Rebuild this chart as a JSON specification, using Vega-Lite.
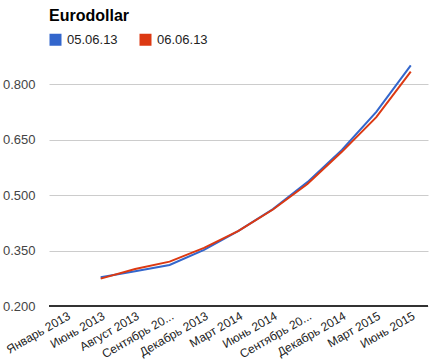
{
  "$schema": "https://vega.github.io/schema/vega-lite/v6.json",
  "autosize": "none",
  "width": 379,
  "height": 244,
  "padding": {"left": 49, "top": 62, "right": 8, "bottom": 58},
  "background": "white",
  "title": {"text": "Eurodollar", "anchor": "start", "frame": "group", "font": "Liberation Sans", "fontSize": 16, "fontWeight": "bold", "color": "#000000", "baseline": "bottom", "offset": 0, "dy": 7},
  "data": {
    "values": [
      {"month": "Июнь 2013", "series": "05.06.13", "value": 0.278},
      {"month": "Август 2013", "series": "05.06.13", "value": 0.294},
      {"month": "Сентябрь 2013", "series": "05.06.13", "value": 0.311},
      {"month": "Декабрь 2013", "series": "05.06.13", "value": 0.352},
      {"month": "Март 2014", "series": "05.06.13", "value": 0.403},
      {"month": "Июнь 2014", "series": "05.06.13", "value": 0.462},
      {"month": "Сентябрь 2014", "series": "05.06.13", "value": 0.535},
      {"month": "Декабрь 2014", "series": "05.06.13", "value": 0.622},
      {"month": "Март 2015", "series": "05.06.13", "value": 0.725},
      {"month": "Июнь 2015", "series": "05.06.13", "value": 0.851},
      {"month": "Июнь 2013", "series": "06.06.13", "value": 0.274},
      {"month": "Август 2013", "series": "06.06.13", "value": 0.300},
      {"month": "Сентябрь 2013", "series": "06.06.13", "value": 0.320},
      {"month": "Декабрь 2013", "series": "06.06.13", "value": 0.357},
      {"month": "Март 2014", "series": "06.06.13", "value": 0.403},
      {"month": "Июнь 2014", "series": "06.06.13", "value": 0.461},
      {"month": "Сентябрь 2014", "series": "06.06.13", "value": 0.530},
      {"month": "Декабрь 2014", "series": "06.06.13", "value": 0.617},
      {"month": "Март 2015", "series": "06.06.13", "value": 0.711},
      {"month": "Июнь 2015", "series": "06.06.13", "value": 0.834}
    ]
  },
  "layer": [
    {
      "mark": {"type": "line", "strokeWidth": 2, "clip": false},
      "encoding": {
        "x": {
          "field": "month", "type": "ordinal",
          "scale": {"type": "point", "padding": 0.5, "domain": ["Январь 2013", "Июнь 2013", "Август 2013", "Сентябрь 2013", "Декабрь 2013", "Март 2014", "Июнь 2014", "Сентябрь 2014", "Декабрь 2014", "Март 2015", "Июнь 2015"]},
          "axis": {
            "title": null, "labelAngle": -30, "labelAlign": "right", "labelBaseline": "top",
            "labelExpr": "indexof(datum.value, 'Сентябрь') == 0 ? 'Сентябрь 20...' : datum.value",
            "labelFont": "Liberation Sans", "labelFontSize": 12, "labelColor": "#222222",
            "ticks": false, "domain": false, "grid": false, "labelPadding": 4, "labelOverlap": false, "labelLimit": 0
          }
        },
        "y": {
          "field": "value", "type": "quantitative",
          "scale": {"domain": [0.2, 0.86], "nice": false, "zero": false},
          "axis": {
            "title": null, "values": [0.2, 0.35, 0.5, 0.65, 0.8], "format": ".3f",
            "labelFont": "Liberation Sans", "labelFontSize": 13, "labelColor": "#444444",
            "ticks": false, "domain": false, "gridColor": "#cccccc", "gridOpacity": 1, "labelPadding": 14
          }
        },
        "color": {
          "field": "series", "type": "nominal",
          "scale": {"domain": ["05.06.13", "06.06.13"], "range": ["#3366cc", "#dc3912"]},
          "legend": {
            "title": null, "orient": "none", "direction": "horizontal", "legendX": 0, "legendY": -29,
            "symbolType": "square", "symbolSize": 144, "symbolStrokeWidth": 0,
            "labelFont": "Liberation Sans", "labelFontSize": 13, "labelColor": "#222222",
            "columnPadding": 21, "labelOffset": 5,
            "encode": {"symbols": {"update": {"fill": {"scale": "color", "field": "value"}, "fillOpacity": {"value": 1}}}}
          }
        }
      }
    },
    {
      "mark": {"type": "rule", "color": "#333333", "strokeWidth": 1},
      "encoding": {"y": {"datum": 0.2}}
    }
  ],
  "config": {"view": {"stroke": null}}
}
